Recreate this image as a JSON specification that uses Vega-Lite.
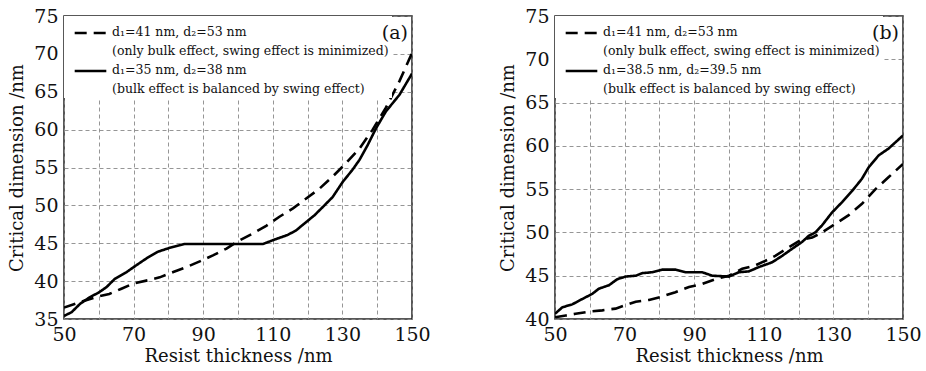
{
  "$schema": "https://vega.github.io/schema/vega-lite/v6.json",
  "background": "white",
  "padding": {"left": 8, "top": 6, "right": 4, "bottom": 4},
  "datasets": {
    "a": [
      {"t": 50, "cd": 36.5, "s": "d₁=41 nm, d₂=53 nm|(only bulk effect, swing effect is minimized)"},
      {"t": 55, "cd": 37.3, "s": "d₁=41 nm, d₂=53 nm|(only bulk effect, swing effect is minimized)"},
      {"t": 60, "cd": 38.0, "s": "d₁=41 nm, d₂=53 nm|(only bulk effect, swing effect is minimized)"},
      {"t": 63, "cd": 38.3, "s": "d₁=41 nm, d₂=53 nm|(only bulk effect, swing effect is minimized)"},
      {"t": 66.5, "cd": 39.0, "s": "d₁=41 nm, d₂=53 nm|(only bulk effect, swing effect is minimized)"},
      {"t": 70, "cd": 39.7, "s": "d₁=41 nm, d₂=53 nm|(only bulk effect, swing effect is minimized)"},
      {"t": 74, "cd": 40.1, "s": "d₁=41 nm, d₂=53 nm|(only bulk effect, swing effect is minimized)"},
      {"t": 77.5, "cd": 40.5, "s": "d₁=41 nm, d₂=53 nm|(only bulk effect, swing effect is minimized)"},
      {"t": 81.4, "cd": 41.2, "s": "d₁=41 nm, d₂=53 nm|(only bulk effect, swing effect is minimized)"},
      {"t": 85.2, "cd": 41.85, "s": "d₁=41 nm, d₂=53 nm|(only bulk effect, swing effect is minimized)"},
      {"t": 89, "cd": 42.6, "s": "d₁=41 nm, d₂=53 nm|(only bulk effect, swing effect is minimized)"},
      {"t": 92.8, "cd": 43.4, "s": "d₁=41 nm, d₂=53 nm|(only bulk effect, swing effect is minimized)"},
      {"t": 96.7, "cd": 44.3, "s": "d₁=41 nm, d₂=53 nm|(only bulk effect, swing effect is minimized)"},
      {"t": 100.5, "cd": 45.4, "s": "d₁=41 nm, d₂=53 nm|(only bulk effect, swing effect is minimized)"},
      {"t": 104.3, "cd": 46.3, "s": "d₁=41 nm, d₂=53 nm|(only bulk effect, swing effect is minimized)"},
      {"t": 108.1, "cd": 47.3, "s": "d₁=41 nm, d₂=53 nm|(only bulk effect, swing effect is minimized)"},
      {"t": 111.9, "cd": 48.5, "s": "d₁=41 nm, d₂=53 nm|(only bulk effect, swing effect is minimized)"},
      {"t": 115.8, "cd": 49.6, "s": "d₁=41 nm, d₂=53 nm|(only bulk effect, swing effect is minimized)"},
      {"t": 119.6, "cd": 50.9, "s": "d₁=41 nm, d₂=53 nm|(only bulk effect, swing effect is minimized)"},
      {"t": 123.4, "cd": 52.2, "s": "d₁=41 nm, d₂=53 nm|(only bulk effect, swing effect is minimized)"},
      {"t": 127.2, "cd": 53.8, "s": "d₁=41 nm, d₂=53 nm|(only bulk effect, swing effect is minimized)"},
      {"t": 131.1, "cd": 55.6, "s": "d₁=41 nm, d₂=53 nm|(only bulk effect, swing effect is minimized)"},
      {"t": 134.9, "cd": 57.5, "s": "d₁=41 nm, d₂=53 nm|(only bulk effect, swing effect is minimized)"},
      {"t": 138.7, "cd": 60.0, "s": "d₁=41 nm, d₂=53 nm|(only bulk effect, swing effect is minimized)"},
      {"t": 142.5, "cd": 62.9, "s": "d₁=41 nm, d₂=53 nm|(only bulk effect, swing effect is minimized)"},
      {"t": 146.4, "cd": 66.4, "s": "d₁=41 nm, d₂=53 nm|(only bulk effect, swing effect is minimized)"},
      {"t": 150, "cd": 70.1, "s": "d₁=41 nm, d₂=53 nm|(only bulk effect, swing effect is minimized)"},
      {"t": 50, "cd": 35.4, "s": "d₁=35 nm, d₂=38 nm|(bulk effect is balanced by swing effect)"},
      {"t": 52.2, "cd": 35.9, "s": "d₁=35 nm, d₂=38 nm|(bulk effect is balanced by swing effect)"},
      {"t": 54.6, "cd": 37.0, "s": "d₁=35 nm, d₂=38 nm|(bulk effect is balanced by swing effect)"},
      {"t": 57.5, "cd": 37.9, "s": "d₁=35 nm, d₂=38 nm|(bulk effect is balanced by swing effect)"},
      {"t": 60, "cd": 38.5, "s": "d₁=35 nm, d₂=38 nm|(bulk effect is balanced by swing effect)"},
      {"t": 62.2, "cd": 39.2, "s": "d₁=35 nm, d₂=38 nm|(bulk effect is balanced by swing effect)"},
      {"t": 64.6, "cd": 40.3, "s": "d₁=35 nm, d₂=38 nm|(bulk effect is balanced by swing effect)"},
      {"t": 68, "cd": 41.2, "s": "d₁=35 nm, d₂=38 nm|(bulk effect is balanced by swing effect)"},
      {"t": 70.8, "cd": 42.1, "s": "d₁=35 nm, d₂=38 nm|(bulk effect is balanced by swing effect)"},
      {"t": 73.7, "cd": 43.0, "s": "d₁=35 nm, d₂=38 nm|(bulk effect is balanced by swing effect)"},
      {"t": 77.1, "cd": 43.9, "s": "d₁=35 nm, d₂=38 nm|(bulk effect is balanced by swing effect)"},
      {"t": 80.4, "cd": 44.4, "s": "d₁=35 nm, d₂=38 nm|(bulk effect is balanced by swing effect)"},
      {"t": 84.7, "cd": 44.9, "s": "d₁=35 nm, d₂=38 nm|(bulk effect is balanced by swing effect)"},
      {"t": 90, "cd": 44.9, "s": "d₁=35 nm, d₂=38 nm|(bulk effect is balanced by swing effect)"},
      {"t": 100, "cd": 44.9, "s": "d₁=35 nm, d₂=38 nm|(bulk effect is balanced by swing effect)"},
      {"t": 107.2, "cd": 44.9, "s": "d₁=35 nm, d₂=38 nm|(bulk effect is balanced by swing effect)"},
      {"t": 110, "cd": 45.4, "s": "d₁=35 nm, d₂=38 nm|(bulk effect is balanced by swing effect)"},
      {"t": 114.3, "cd": 46.1, "s": "d₁=35 nm, d₂=38 nm|(bulk effect is balanced by swing effect)"},
      {"t": 116.7, "cd": 46.7, "s": "d₁=35 nm, d₂=38 nm|(bulk effect is balanced by swing effect)"},
      {"t": 119.6, "cd": 47.8, "s": "d₁=35 nm, d₂=38 nm|(bulk effect is balanced by swing effect)"},
      {"t": 122, "cd": 48.7, "s": "d₁=35 nm, d₂=38 nm|(bulk effect is balanced by swing effect)"},
      {"t": 124.4, "cd": 49.8, "s": "d₁=35 nm, d₂=38 nm|(bulk effect is balanced by swing effect)"},
      {"t": 127.2, "cd": 51.1, "s": "d₁=35 nm, d₂=38 nm|(bulk effect is balanced by swing effect)"},
      {"t": 130.1, "cd": 53.1, "s": "d₁=35 nm, d₂=38 nm|(bulk effect is balanced by swing effect)"},
      {"t": 132.9, "cd": 54.7, "s": "d₁=35 nm, d₂=38 nm|(bulk effect is balanced by swing effect)"},
      {"t": 134.9, "cd": 56.0, "s": "d₁=35 nm, d₂=38 nm|(bulk effect is balanced by swing effect)"},
      {"t": 137.3, "cd": 58.0, "s": "d₁=35 nm, d₂=38 nm|(bulk effect is balanced by swing effect)"},
      {"t": 139.7, "cd": 60.2, "s": "d₁=35 nm, d₂=38 nm|(bulk effect is balanced by swing effect)"},
      {"t": 142.5, "cd": 62.4, "s": "d₁=35 nm, d₂=38 nm|(bulk effect is balanced by swing effect)"},
      {"t": 146.4, "cd": 64.6, "s": "d₁=35 nm, d₂=38 nm|(bulk effect is balanced by swing effect)"},
      {"t": 150, "cd": 67.4, "s": "d₁=35 nm, d₂=38 nm|(bulk effect is balanced by swing effect)"}
    ],
    "b": [
      {"t": 50, "cd": 40.2, "s": "d₁=41 nm, d₂=53 nm|(only bulk effect, swing effect is minimized)"},
      {"t": 53.1, "cd": 40.4, "s": "d₁=41 nm, d₂=53 nm|(only bulk effect, swing effect is minimized)"},
      {"t": 55.9, "cd": 40.6, "s": "d₁=41 nm, d₂=53 nm|(only bulk effect, swing effect is minimized)"},
      {"t": 59.8, "cd": 40.85, "s": "d₁=41 nm, d₂=53 nm|(only bulk effect, swing effect is minimized)"},
      {"t": 63.6, "cd": 41.0, "s": "d₁=41 nm, d₂=53 nm|(only bulk effect, swing effect is minimized)"},
      {"t": 67.4, "cd": 41.2, "s": "d₁=41 nm, d₂=53 nm|(only bulk effect, swing effect is minimized)"},
      {"t": 70.3, "cd": 41.6, "s": "d₁=41 nm, d₂=53 nm|(only bulk effect, swing effect is minimized)"},
      {"t": 73.2, "cd": 42.0, "s": "d₁=41 nm, d₂=53 nm|(only bulk effect, swing effect is minimized)"},
      {"t": 77, "cd": 42.2, "s": "d₁=41 nm, d₂=53 nm|(only bulk effect, swing effect is minimized)"},
      {"t": 80.8, "cd": 42.6, "s": "d₁=41 nm, d₂=53 nm|(only bulk effect, swing effect is minimized)"},
      {"t": 84.6, "cd": 43.1, "s": "d₁=41 nm, d₂=53 nm|(only bulk effect, swing effect is minimized)"},
      {"t": 88.5, "cd": 43.7, "s": "d₁=41 nm, d₂=53 nm|(only bulk effect, swing effect is minimized)"},
      {"t": 92.3, "cd": 44.05, "s": "d₁=41 nm, d₂=53 nm|(only bulk effect, swing effect is minimized)"},
      {"t": 96.1, "cd": 44.6, "s": "d₁=41 nm, d₂=53 nm|(only bulk effect, swing effect is minimized)"},
      {"t": 100, "cd": 45.0, "s": "d₁=41 nm, d₂=53 nm|(only bulk effect, swing effect is minimized)"},
      {"t": 103.8, "cd": 45.8, "s": "d₁=41 nm, d₂=53 nm|(only bulk effect, swing effect is minimized)"},
      {"t": 107.6, "cd": 46.2, "s": "d₁=41 nm, d₂=53 nm|(only bulk effect, swing effect is minimized)"},
      {"t": 111.4, "cd": 46.9, "s": "d₁=41 nm, d₂=53 nm|(only bulk effect, swing effect is minimized)"},
      {"t": 113.3, "cd": 47.3, "s": "d₁=41 nm, d₂=53 nm|(only bulk effect, swing effect is minimized)"},
      {"t": 117.2, "cd": 48.3, "s": "d₁=41 nm, d₂=53 nm|(only bulk effect, swing effect is minimized)"},
      {"t": 121, "cd": 49.2, "s": "d₁=41 nm, d₂=53 nm|(only bulk effect, swing effect is minimized)"},
      {"t": 123.9, "cd": 49.4, "s": "d₁=41 nm, d₂=53 nm|(only bulk effect, swing effect is minimized)"},
      {"t": 126.7, "cd": 50.0, "s": "d₁=41 nm, d₂=53 nm|(only bulk effect, swing effect is minimized)"},
      {"t": 130.6, "cd": 51.0, "s": "d₁=41 nm, d₂=53 nm|(only bulk effect, swing effect is minimized)"},
      {"t": 134.4, "cd": 52.0, "s": "d₁=41 nm, d₂=53 nm|(only bulk effect, swing effect is minimized)"},
      {"t": 138.2, "cd": 53.3, "s": "d₁=41 nm, d₂=53 nm|(only bulk effect, swing effect is minimized)"},
      {"t": 142.1, "cd": 55.0, "s": "d₁=41 nm, d₂=53 nm|(only bulk effect, swing effect is minimized)"},
      {"t": 145.9, "cd": 56.4, "s": "d₁=41 nm, d₂=53 nm|(only bulk effect, swing effect is minimized)"},
      {"t": 150, "cd": 57.9, "s": "d₁=41 nm, d₂=53 nm|(only bulk effect, swing effect is minimized)"},
      {"t": 50, "cd": 40.6, "s": "d₁=38.5 nm, d₂=39.5 nm|(bulk effect is balanced by swing effect)"},
      {"t": 52.1, "cd": 41.35, "s": "d₁=38.5 nm, d₂=39.5 nm|(bulk effect is balanced by swing effect)"},
      {"t": 55, "cd": 41.7, "s": "d₁=38.5 nm, d₂=39.5 nm|(bulk effect is balanced by swing effect)"},
      {"t": 57.8, "cd": 42.3, "s": "d₁=38.5 nm, d₂=39.5 nm|(bulk effect is balanced by swing effect)"},
      {"t": 60.7, "cd": 42.9, "s": "d₁=38.5 nm, d₂=39.5 nm|(bulk effect is balanced by swing effect)"},
      {"t": 62.6, "cd": 43.5, "s": "d₁=38.5 nm, d₂=39.5 nm|(bulk effect is balanced by swing effect)"},
      {"t": 65.5, "cd": 43.9, "s": "d₁=38.5 nm, d₂=39.5 nm|(bulk effect is balanced by swing effect)"},
      {"t": 67.9, "cd": 44.6, "s": "d₁=38.5 nm, d₂=39.5 nm|(bulk effect is balanced by swing effect)"},
      {"t": 70.3, "cd": 44.9, "s": "d₁=38.5 nm, d₂=39.5 nm|(bulk effect is balanced by swing effect)"},
      {"t": 73.2, "cd": 45.0, "s": "d₁=38.5 nm, d₂=39.5 nm|(bulk effect is balanced by swing effect)"},
      {"t": 75.1, "cd": 45.3, "s": "d₁=38.5 nm, d₂=39.5 nm|(bulk effect is balanced by swing effect)"},
      {"t": 77.9, "cd": 45.4, "s": "d₁=38.5 nm, d₂=39.5 nm|(bulk effect is balanced by swing effect)"},
      {"t": 80.8, "cd": 45.7, "s": "d₁=38.5 nm, d₂=39.5 nm|(bulk effect is balanced by swing effect)"},
      {"t": 84.6, "cd": 45.7, "s": "d₁=38.5 nm, d₂=39.5 nm|(bulk effect is balanced by swing effect)"},
      {"t": 87.5, "cd": 45.4, "s": "d₁=38.5 nm, d₂=39.5 nm|(bulk effect is balanced by swing effect)"},
      {"t": 92.3, "cd": 45.4, "s": "d₁=38.5 nm, d₂=39.5 nm|(bulk effect is balanced by swing effect)"},
      {"t": 95.2, "cd": 45.0, "s": "d₁=38.5 nm, d₂=39.5 nm|(bulk effect is balanced by swing effect)"},
      {"t": 100, "cd": 44.9, "s": "d₁=38.5 nm, d₂=39.5 nm|(bulk effect is balanced by swing effect)"},
      {"t": 102.8, "cd": 45.4, "s": "d₁=38.5 nm, d₂=39.5 nm|(bulk effect is balanced by swing effect)"},
      {"t": 105.7, "cd": 45.5, "s": "d₁=38.5 nm, d₂=39.5 nm|(bulk effect is balanced by swing effect)"},
      {"t": 108.6, "cd": 46.0, "s": "d₁=38.5 nm, d₂=39.5 nm|(bulk effect is balanced by swing effect)"},
      {"t": 112.4, "cd": 46.55, "s": "d₁=38.5 nm, d₂=39.5 nm|(bulk effect is balanced by swing effect)"},
      {"t": 115.3, "cd": 47.3, "s": "d₁=38.5 nm, d₂=39.5 nm|(bulk effect is balanced by swing effect)"},
      {"t": 118.1, "cd": 48.1, "s": "d₁=38.5 nm, d₂=39.5 nm|(bulk effect is balanced by swing effect)"},
      {"t": 121, "cd": 48.9, "s": "d₁=38.5 nm, d₂=39.5 nm|(bulk effect is balanced by swing effect)"},
      {"t": 122.9, "cd": 49.6, "s": "d₁=38.5 nm, d₂=39.5 nm|(bulk effect is balanced by swing effect)"},
      {"t": 124.8, "cd": 50.0, "s": "d₁=38.5 nm, d₂=39.5 nm|(bulk effect is balanced by swing effect)"},
      {"t": 126.7, "cd": 50.8, "s": "d₁=38.5 nm, d₂=39.5 nm|(bulk effect is balanced by swing effect)"},
      {"t": 129.6, "cd": 52.3, "s": "d₁=38.5 nm, d₂=39.5 nm|(bulk effect is balanced by swing effect)"},
      {"t": 132.5, "cd": 53.5, "s": "d₁=38.5 nm, d₂=39.5 nm|(bulk effect is balanced by swing effect)"},
      {"t": 135.4, "cd": 54.8, "s": "d₁=38.5 nm, d₂=39.5 nm|(bulk effect is balanced by swing effect)"},
      {"t": 138.2, "cd": 56.2, "s": "d₁=38.5 nm, d₂=39.5 nm|(bulk effect is balanced by swing effect)"},
      {"t": 140.1, "cd": 57.5, "s": "d₁=38.5 nm, d₂=39.5 nm|(bulk effect is balanced by swing effect)"},
      {"t": 143, "cd": 58.9, "s": "d₁=38.5 nm, d₂=39.5 nm|(bulk effect is balanced by swing effect)"},
      {"t": 145.9, "cd": 59.7, "s": "d₁=38.5 nm, d₂=39.5 nm|(bulk effect is balanced by swing effect)"},
      {"t": 147.8, "cd": 60.4, "s": "d₁=38.5 nm, d₂=39.5 nm|(bulk effect is balanced by swing effect)"},
      {"t": 150, "cd": 61.2, "s": "d₁=38.5 nm, d₂=39.5 nm|(bulk effect is balanced by swing effect)"}
    ]
  },
  "hconcat": [
    {
      "width": 348,
      "height": 303,
      "title": {"text": "(a)"},
      "data": {"name": "a"},
      "mark": {"type": "line", "color": "black", "strokeWidth": 2.6, "clip": true},
      "encoding": {
        "x": {"field": "t", "type": "quantitative", "scale": {"domain": [50, 150], "nice": false}, "title": "Resist thickness /nm",
              "axis": {"values": [50, 60, 70, 80, 90, 100, 110, 120, 130, 140, 150], "labelExpr": "datum.value % 20 == 0 ? '' : datum.label"}},
        "y": {"field": "cd", "type": "quantitative", "scale": {"domain": [35, 75], "nice": false}, "title": "Critical dimension /nm",
              "axis": {"values": [35, 40, 45, 50, 55, 60, 65, 70, 75]}},
        "strokeDash": {"field": "s", "type": "nominal",
          "scale": {"domain": ["d₁=41 nm, d₂=53 nm|(only bulk effect, swing effect is minimized)", "d₁=35 nm, d₂=38 nm|(bulk effect is balanced by swing effect)"], "range": [[12, 7], [1, 0]]},
          "legend": {"title": null, "labelExpr": "split(datum.label, '|')",
            "encode": {
              "symbols": {"update": {"y": {"value": 14}}},
              "labels": {"update": {"y": {"value": 14}, "lineHeight": {"value": 18.5}, "dy": {"value": -7}}}
            }}},
        "order": {"field": "t", "type": "quantitative"}
      }
    },
    {
      "width": 348,
      "height": 303,
      "title": {"text": "(b)"},
      "data": {"name": "b"},
      "mark": {"type": "line", "color": "black", "strokeWidth": 2.6, "clip": true},
      "encoding": {
        "x": {"field": "t", "type": "quantitative", "scale": {"domain": [50, 150], "nice": false}, "title": "Resist thickness /nm",
              "axis": {"values": [50, 60, 70, 80, 90, 100, 110, 120, 130, 140, 150], "labelExpr": "datum.value % 20 == 0 ? '' : datum.label"}},
        "y": {"field": "cd", "type": "quantitative", "scale": {"domain": [40, 75], "nice": false}, "title": "Critical dimension /nm",
              "axis": {"values": [40, 45, 50, 55, 60, 65, 70, 75]}},
        "strokeDash": {"field": "s", "type": "nominal",
          "scale": {"domain": ["d₁=41 nm, d₂=53 nm|(only bulk effect, swing effect is minimized)", "d₁=38.5 nm, d₂=39.5 nm|(bulk effect is balanced by swing effect)"], "range": [[12, 7], [1, 0]]},
          "legend": {"title": null, "labelExpr": "split(datum.label, '|')",
            "encode": {
              "symbols": {"update": {"y": {"value": 14}}},
              "labels": {"update": {"y": {"value": 14}, "lineHeight": {"value": 18.5}, "dy": {"value": -7}}}
            }}},
        "order": {"field": "t", "type": "quantitative"}
      }
    }
  ],
  "spacing": 68,
  "resolve": {
    "scale": {"strokeDash": "independent", "y": "independent", "x": "independent"},
    "legend": {"strokeDash": "independent"},
    "axis": {"x": "independent", "y": "independent"}
  },
  "config": {
    "font": "DejaVu Serif",
    "view": {"stroke": "#222", "strokeWidth": 1.5},
    "title": {
      "anchor": "end",
      "orient": "top",
      "frame": "group",
      "offset": -36,
      "dx": -4,
      "font": "DejaVu Serif",
      "fontSize": 19,
      "fontWeight": "normal",
      "color": "#111"
    },
    "axis": {
      "domain": false,
      "ticks": false,
      "labelFont": "DejaVu Serif",
      "labelFontSize": 19,
      "labelColor": "#111",
      "labelPadding": 6,
      "labelFlush": false,
      "labelOverlap": false,
      "titleFont": "DejaVu Serif",
      "titleFontSize": 18,
      "titleFontWeight": "normal",
      "titleColor": "#111",
      "grid": true,
      "gridColor": "#8a8a8a",
      "gridDash": [4, 3],
      "gridWidth": 0.9
    },
    "axisX": {"titlePadding": 3},
    "axisY": {"titlePadding": 7},
    "legend": {
      "orient": "top-left",
      "offset": 0,
      "padding": 3,
      "symbolOffset": 6,
      "fillColor": "white",
      "symbolType": "stroke",
      "symbolSize": 1000,
      "symbolStrokeWidth": 2.6,
      "symbolStrokeColor": "black",
      "labelFont": "DejaVu Serif",
      "labelFontSize": 12.5,
      "labelColor": "#111",
      "labelLimit": 0,
      "labelBaseline": "top",
      "labelOffset": 4,
      "rowPadding": -12
    }
  }
}
